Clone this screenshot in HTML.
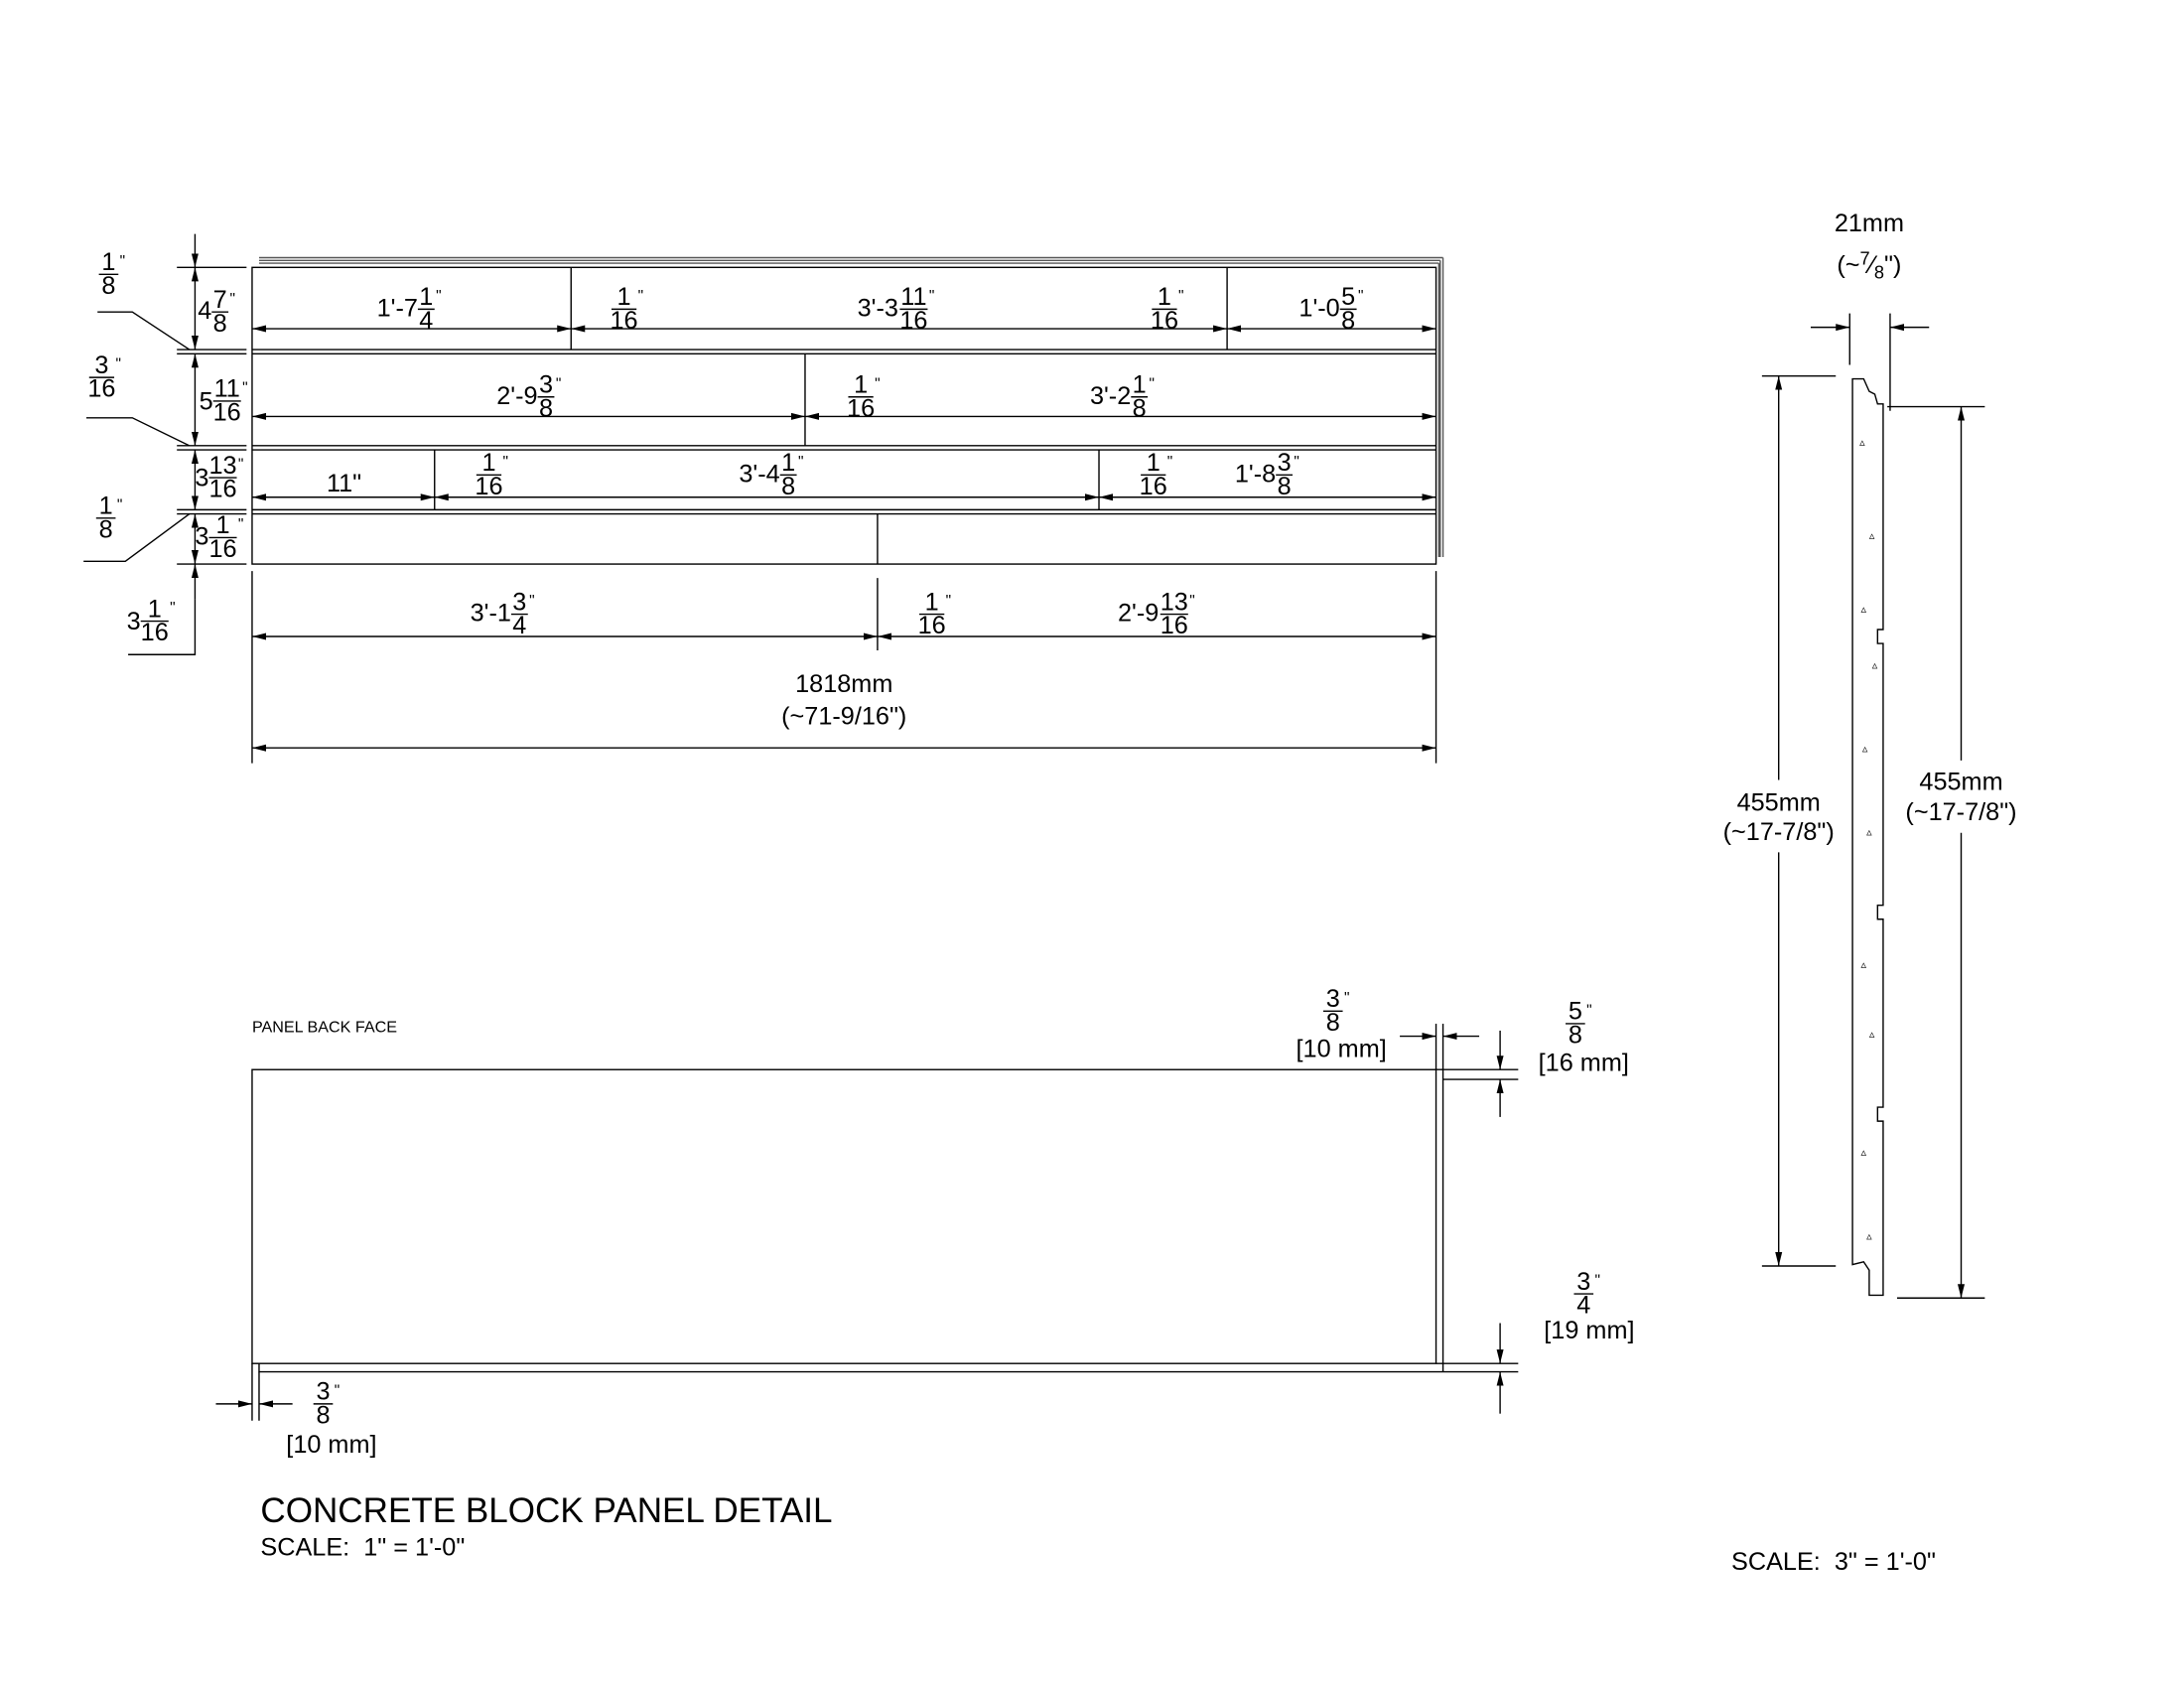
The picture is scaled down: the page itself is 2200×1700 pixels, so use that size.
<!DOCTYPE html>
<html><head><meta charset="utf-8"><style>
html,body{margin:0;padding:0;background:#fff;}
svg{display:block}
text{font-family:"Liberation Sans",sans-serif;fill:#000}
</style></head><body>
<svg width="2200" height="1700" viewBox="0 0 1568 1212" preserveAspectRatio="none" xmlns="http://www.w3.org/2000/svg">
<defs>
<marker id="a" viewBox="0 0 10 6" refX="10" refY="3" markerWidth="10" markerHeight="6" markerUnits="userSpaceOnUse" orient="auto-start-reverse"><path d="M0,0.5 L10,3 L0,5.5z" fill="#000"/></marker>
</defs>
<g stroke="#000" stroke-width="1" fill="none">
<path d="M186,185 H1036 M186,187 H1034 M186,189 H1033" stroke="#555"/>
<path d="M1036,185 V400 M1034,187 V400 M1033,189 V400" stroke="#555"/>
<rect x="181" y="192" width="850" height="213"/>
<path d="M181,251 H1031 M181,254 H1031 M181,320 H1031 M181,323 H1031 M181,366 H1031 M181,369 H1031"/>
<path d="M410,192 V251 M881,192 V251 M578,254 V320 M312,323 V366 M789,323 V366 M630,369 V405 M630,415 V467"/>
<line x1="181" y1="236" x2="410" y2="236" marker-start="url(#a)" marker-end="url(#a)"/>
<line x1="410" y1="236" x2="881" y2="236" marker-start="url(#a)" marker-end="url(#a)"/>
<line x1="881" y1="236" x2="1031" y2="236" marker-start="url(#a)" marker-end="url(#a)"/>
<line x1="181" y1="299" x2="578" y2="299" marker-start="url(#a)" marker-end="url(#a)"/>
<line x1="578" y1="299" x2="1031" y2="299" marker-start="url(#a)" marker-end="url(#a)"/>
<line x1="181" y1="357" x2="312" y2="357" marker-start="url(#a)" marker-end="url(#a)"/>
<line x1="312" y1="357" x2="789" y2="357" marker-start="url(#a)" marker-end="url(#a)"/>
<line x1="789" y1="357" x2="1031" y2="357" marker-start="url(#a)" marker-end="url(#a)"/>
<line x1="181" y1="457" x2="630" y2="457" marker-start="url(#a)" marker-end="url(#a)"/>
<line x1="630" y1="457" x2="1031" y2="457" marker-start="url(#a)" marker-end="url(#a)"/>
<line x1="181" y1="537" x2="1031" y2="537" marker-start="url(#a)" marker-end="url(#a)"/>
<path d="M181,410 V548 M1031,410 V548"/>
<path d="M127,192 H177 M127,251 H177 M127,254 H177 M127,320 H177 M127,323 H177 M127,366 H177 M127,369 H177 M127,405 H177"/>
<line x1="140" y1="168" x2="140" y2="192" marker-end="url(#a)"/>
<line x1="140" y1="192" x2="140" y2="251" marker-start="url(#a)" marker-end="url(#a)"/>
<line x1="140" y1="254" x2="140" y2="320" marker-start="url(#a)" marker-end="url(#a)"/>
<line x1="140" y1="323" x2="140" y2="366" marker-start="url(#a)" marker-end="url(#a)"/>
<line x1="140" y1="369" x2="140" y2="405" marker-start="url(#a)" marker-end="url(#a)"/>
<line x1="140" y1="430" x2="140" y2="405" marker-end="url(#a)"/>
<path d="M140,430 V470 H92"/>
<path d="M136,251 L95,224 H70 M136,320 L95,300 H62 M136,369 L90,403 H60"/>
<rect x="181" y="768" width="850" height="211"/>
<path d="M1036,775 V985 H186 V979 M1036,775 H1090 M1031,768 H1090 M1036,985 H1090 M1031,979 H1090"/>
<path d="M1031,735 V768 M1036,735 V775"/>
<line x1="1005" y1="744" x2="1031" y2="744" marker-end="url(#a)"/>
<line x1="1062" y1="744" x2="1036" y2="744" marker-end="url(#a)"/>
<line x1="1077" y1="740" x2="1077" y2="768" marker-end="url(#a)"/>
<line x1="1077" y1="802" x2="1077" y2="775" marker-end="url(#a)"/>
<line x1="1077" y1="950" x2="1077" y2="979" marker-end="url(#a)"/>
<line x1="1077" y1="1015" x2="1077" y2="985" marker-end="url(#a)"/>
<path d="M181,979 V1020 M186,985 V1020"/>
<line x1="155" y1="1008" x2="181" y2="1008" marker-end="url(#a)"/>
<line x1="210" y1="1008" x2="186" y2="1008" marker-end="url(#a)"/>
<path d="M1330,272 H1338 L1342,281 L1346,283 L1348,290 H1352 V452 H1348 V462 H1352 V650 H1348 V660 H1352 V795 H1348 V805 H1352 V930 H1342 V912 L1338,906 L1330,908 Z"/>
<path d="M1328,225 V262 M1357,225 V295"/>
<line x1="1300" y1="235" x2="1328" y2="235" marker-end="url(#a)"/>
<line x1="1385" y1="235" x2="1357" y2="235" marker-end="url(#a)"/>
<path d="M1265,270 H1318 M1265,909 H1318 M1355,292 H1425 M1362,932 H1425"/>
<line x1="1277" y1="270" x2="1277" y2="560" marker-start="url(#a)"/>
<line x1="1277" y1="612" x2="1277" y2="909" marker-end="url(#a)"/>
<line x1="1408" y1="292" x2="1408" y2="546" marker-start="url(#a)"/>
<line x1="1408" y1="598" x2="1408" y2="932" marker-end="url(#a)"/>
</g>
<g font-size="8" fill="#000">
<text x="1335" y="320">▵</text><text x="1342" y="387">▵</text><text x="1336" y="440">▵</text><text x="1344" y="480">▵</text><text x="1337" y="540">▵</text><text x="1340" y="600">▵</text><text x="1336" y="695">▵</text><text x="1342" y="745">▵</text><text x="1336" y="830">▵</text><text x="1340" y="890">▵</text>
</g>
<g font-size="18" stroke="none">
<text x="300" y="227" text-anchor="end">1'-7</text><text x="306" y="219" text-anchor="middle">1</text><line x1="300" y1="222" x2="312" y2="222" stroke="#000"/><text x="306" y="236" text-anchor="middle">4</text><text x="313" y="216" font-size="11">"</text>
<text x="448" y="219" text-anchor="middle">1</text><line x1="439" y1="222" x2="457" y2="222" stroke="#000"/><text x="448" y="236" text-anchor="middle">16</text><text x="458" y="216" font-size="11">"</text>
<text x="645" y="227" text-anchor="end">3'-3</text><text x="656" y="219" text-anchor="middle">11</text><line x1="646" y1="222" x2="666" y2="222" stroke="#000"/><text x="656" y="236" text-anchor="middle">16</text><text x="667" y="216" font-size="11">"</text>
<text x="836" y="219" text-anchor="middle">1</text><line x1="827" y1="222" x2="845" y2="222" stroke="#000"/><text x="836" y="236" text-anchor="middle">16</text><text x="846" y="216" font-size="11">"</text>
<text x="962" y="227" text-anchor="end">1'-0</text><text x="968" y="219" text-anchor="middle">5</text><line x1="962" y1="222" x2="974" y2="222" stroke="#000"/><text x="968" y="236" text-anchor="middle">8</text><text x="975" y="216" font-size="11">"</text>
<text x="386" y="290" text-anchor="end">2'-9</text><text x="392" y="282" text-anchor="middle">3</text><line x1="386" y1="285" x2="398" y2="285" stroke="#000"/><text x="392" y="299" text-anchor="middle">8</text><text x="399" y="279" font-size="11">"</text>
<text x="618" y="282" text-anchor="middle">1</text><line x1="609" y1="285" x2="627" y2="285" stroke="#000"/><text x="618" y="299" text-anchor="middle">16</text><text x="628" y="279" font-size="11">"</text>
<text x="812" y="290" text-anchor="end">3'-2</text><text x="818" y="282" text-anchor="middle">1</text><line x1="812" y1="285" x2="824" y2="285" stroke="#000"/><text x="818" y="299" text-anchor="middle">8</text><text x="825" y="279" font-size="11">"</text>
<text x="247" y="353" text-anchor="middle">11"</text>
<text x="351" y="338" text-anchor="middle">1</text><line x1="342" y1="341" x2="360" y2="341" stroke="#000"/><text x="351" y="355" text-anchor="middle">16</text><text x="361" y="335" font-size="11">"</text>
<text x="560" y="346" text-anchor="end">3'-4</text><text x="566" y="338" text-anchor="middle">1</text><line x1="560" y1="341" x2="572" y2="341" stroke="#000"/><text x="566" y="355" text-anchor="middle">8</text><text x="573" y="335" font-size="11">"</text>
<text x="828" y="338" text-anchor="middle">1</text><line x1="819" y1="341" x2="837" y2="341" stroke="#000"/><text x="828" y="355" text-anchor="middle">16</text><text x="838" y="335" font-size="11">"</text>
<text x="916" y="346" text-anchor="end">1'-8</text><text x="922" y="338" text-anchor="middle">3</text><line x1="916" y1="341" x2="928" y2="341" stroke="#000"/><text x="922" y="355" text-anchor="middle">8</text><text x="929" y="335" font-size="11">"</text>
<text x="367" y="446" text-anchor="end">3'-1</text><text x="373" y="438" text-anchor="middle">3</text><line x1="367" y1="441" x2="379" y2="441" stroke="#000"/><text x="373" y="455" text-anchor="middle">4</text><text x="380" y="435" font-size="11">"</text>
<text x="669" y="438" text-anchor="middle">1</text><line x1="660" y1="441" x2="678" y2="441" stroke="#000"/><text x="669" y="455" text-anchor="middle">16</text><text x="679" y="435" font-size="11">"</text>
<text x="832" y="446" text-anchor="end">2'-9</text><text x="843" y="438" text-anchor="middle">13</text><line x1="833" y1="441" x2="853" y2="441" stroke="#000"/><text x="843" y="455" text-anchor="middle">16</text><text x="854" y="435" font-size="11">"</text>
<text x="606" y="497" text-anchor="middle">1818mm</text>
<text x="606" y="520" text-anchor="middle">(~71-9/16")</text>
<text x="78" y="194" text-anchor="middle">1</text><line x1="71" y1="197" x2="85" y2="197" stroke="#000"/><text x="78" y="211" text-anchor="middle">8</text><text x="86" y="191" font-size="11">"</text>
<text x="73" y="268" text-anchor="middle">3</text><line x1="64" y1="271" x2="82" y2="271" stroke="#000"/><text x="73" y="285" text-anchor="middle">16</text><text x="83" y="265" font-size="11">"</text>
<text x="76" y="369" text-anchor="middle">1</text><line x1="69" y1="372" x2="83" y2="372" stroke="#000"/><text x="76" y="386" text-anchor="middle">8</text><text x="84" y="366" font-size="11">"</text>
<text x="152" y="229" text-anchor="end">4</text><text x="158" y="221" text-anchor="middle">7</text><line x1="152" y1="224" x2="164" y2="224" stroke="#000"/><text x="158" y="238" text-anchor="middle">8</text><text x="165" y="218" font-size="11">"</text>
<text x="153" y="294" text-anchor="end">5</text><text x="163" y="285" text-anchor="middle">11</text><line x1="153" y1="288" x2="173" y2="288" stroke="#000"/><text x="163" y="302" text-anchor="middle">16</text><text x="174" y="282" font-size="11">"</text>
<text x="150" y="349" text-anchor="end">3</text><text x="160" y="340" text-anchor="middle">13</text><line x1="150" y1="343" x2="170" y2="343" stroke="#000"/><text x="160" y="357" text-anchor="middle">16</text><text x="171" y="337" font-size="11">"</text>
<text x="150" y="391" text-anchor="end">3</text><text x="160" y="383" text-anchor="middle">1</text><line x1="150" y1="386" x2="170" y2="386" stroke="#000"/><text x="160" y="400" text-anchor="middle">16</text><text x="171" y="380" font-size="11">"</text>
<text x="101" y="452" text-anchor="end">3</text><text x="111" y="443" text-anchor="middle">1</text><line x1="101" y1="446" x2="121" y2="446" stroke="#000"/><text x="111" y="460" text-anchor="middle">16</text><text x="122" y="440" font-size="11">"</text>
<text x="181" y="741" font-size="11.5">PANEL BACK FACE</text>
<text x="957" y="723" text-anchor="middle">3</text><line x1="950" y1="726" x2="964" y2="726" stroke="#000"/><text x="957" y="740" text-anchor="middle">8</text><text x="965" y="720" font-size="11">"</text>
<text x="963" y="759" text-anchor="middle">[10 mm]</text>
<text x="1131" y="732" text-anchor="middle">5</text><line x1="1124" y1="735" x2="1138" y2="735" stroke="#000"/><text x="1131" y="749" text-anchor="middle">8</text><text x="1139" y="729" font-size="11">"</text>
<text x="1137" y="769" text-anchor="middle">[16 mm]</text>
<text x="1137" y="926" text-anchor="middle">3</text><line x1="1130" y1="929" x2="1144" y2="929" stroke="#000"/><text x="1137" y="943" text-anchor="middle">4</text><text x="1145" y="923" font-size="11">"</text>
<text x="1141" y="961" text-anchor="middle">[19 mm]</text>
<text x="232" y="1005" text-anchor="middle">3</text><line x1="225" y1="1008" x2="239" y2="1008" stroke="#000"/><text x="232" y="1022" text-anchor="middle">8</text><text x="240" y="1002" font-size="11">"</text>
<text x="238" y="1043" text-anchor="middle">[10 mm]</text>
<text x="1342" y="166" text-anchor="middle">21mm</text>
<text x="1342" y="196" text-anchor="middle">(~<tspan font-size="13" dy="-6">7</tspan><tspan dy="6">⁄</tspan><tspan font-size="13" dy="4">8</tspan><tspan dy="-4">")</tspan></text>
<text x="1277" y="582" text-anchor="middle">455mm</text>
<text x="1277" y="603" text-anchor="middle">(~17-7/8")</text>
<text x="1408" y="567" text-anchor="middle">455mm</text>
<text x="1408" y="589" text-anchor="middle">(~17-7/8")</text>
<text x="187" y="1093" font-size="25">CONCRETE BLOCK PANEL DETAIL</text>
<text x="187" y="1117" xml:space="preserve">SCALE:  1" = 1'-0"</text>
<text x="1243" y="1127" xml:space="preserve">SCALE:  3" = 1'-0"</text>
</g>
</svg>
</body></html>
